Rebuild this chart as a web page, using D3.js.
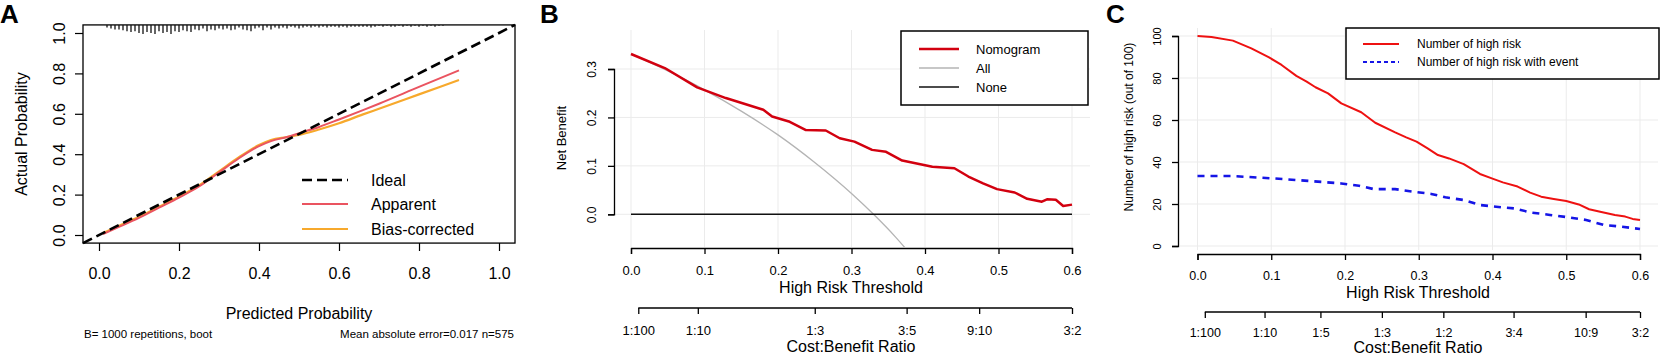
<!DOCTYPE html>
<html lang="en">
<head>
<meta charset="UTF-8"/>
<title>Calibration and decision curves</title>
<script src="https://d3js.org/d3.v7.min.js"></script>
<style>
    body { margin: 0; background: #fff; }
    svg { display: block; font-family: "Liberation Sans", Arial, sans-serif; }
</style>
</head>
<body>
<div id="chart"></div>
<script>
    let width = 1664;
    let height = 358;

    // ---------- panel A : calibration ----------
    var calTicks = [0, 0.2, 0.4, 0.6, 0.8, 1.0];
    var calX = [0.01, 0.05, 0.1, 0.15, 0.2, 0.25, 0.3, 0.35, 0.4, 0.43, 0.47, 0.51, 0.55, 0.6, 0.66, 0.7, 0.8, 0.9];
    var apparentY = [0.005, 0.04, 0.085, 0.135, 0.185, 0.24, 0.31, 0.38, 0.44, 0.465, 0.485, 0.51, 0.535, 0.572, 0.618, 0.65, 0.733, 0.815];
    var biasY = [0.01, 0.045, 0.09, 0.14, 0.19, 0.245, 0.315, 0.385, 0.445, 0.47, 0.485, 0.5, 0.522, 0.553, 0.597, 0.625, 0.696, 0.767];
    // spike lengths of the rug along the top (relative), one per 0.01 of predicted probability from 0.02
    var rugHeights = [0.3, 0.4, 0.5, 0.5, 0.6, 0.7, 0.8, 0.7, 0.9, 1.0, 0.8, 0.9, 1.0, 0.7,
        0.9, 0.8, 1.0, 0.7, 0.8, 0.6, 0.7, 0.8, 0.5, 0.6, 0.4, 0.7, 0.5, 0.6, 0.4,
        0.5, 0.4, 0.6, 0.5, 0.3, 0.5, 0.6, 0.7, 0.4, 0.3, 0.6, 0.3, 0.5, 0.3, 0.4,
        0.3, 0.4, 0.2, 0.3, 0.4, 0.3, 0.2, 0.3, 0.2, 0.3, 0.2, 0.3, 0.2, 0.2, 0.3,
        0.2, 0.3, 0.2, 0.2, 0.2, 0.2, 0.2, 0.3, 0.2, 0.1, 0.2, 0.1, 0.2, 0.2, 0.1,
        0.2, 0.1, 0.2, 0.1, 0.2, 0.1, 0.2, 0.1, 0.2, 0.1, 0.1];
    var calLegend = ["Ideal", "Apparent", "Bias-corrected"];

    // ---------- panel B : decision curve ----------
    var thrTicks = [0, 0.1, 0.2, 0.3, 0.4, 0.5, 0.6];
    var nbTicks = [0, 0.1, 0.2, 0.3];
    var nomoX = [0.0, 0.046, 0.09, 0.129, 0.18, 0.192, 0.216, 0.238, 0.265, 0.284, 0.304, 0.328, 0.347,
        0.369, 0.41, 0.44, 0.459, 0.479, 0.498, 0.522, 0.539, 0.559, 0.566, 0.578, 0.588, 0.6];
    var nomoY = [0.331, 0.302, 0.262, 0.240, 0.216, 0.202, 0.191, 0.174, 0.173, 0.157, 0.150, 0.133, 0.129,
        0.111, 0.098, 0.095, 0.078, 0.064, 0.052, 0.045, 0.032, 0.026, 0.031, 0.030, 0.017, 0.020];
    var allX = [0.0, 0.05, 0.1, 0.15, 0.2, 0.25, 0.3, 0.33, 0.36, 0.39];
    var allY = [0.331, 0.296, 0.257, 0.213, 0.164, 0.107, 0.043, 0.0, -0.047, -0.1];
    var bLegend = ["Nomogram", "All", "None"];
    var bRatios = ["1:100", "1:10", "1:3", "3:5", "9:10", "3:2"];

    // ---------- panel C : clinical impact ----------
    var numTicks = [0, 20, 40, 60, 80, 100];
    var highX = [0, 0.019, 0.048, 0.073, 0.097, 0.114, 0.134, 0.148, 0.16, 0.177, 0.195, 0.222, 0.241, 0.268,
        0.283, 0.297, 0.312, 0.326, 0.341, 0.361, 0.383, 0.4, 0.414, 0.434, 0.451, 0.466, 0.483, 0.5,
        0.517, 0.531, 0.546, 0.566, 0.58, 0.59, 0.6];
    var highY = [100, 99.5, 97.8, 94.1, 89.8, 86.2, 81, 78.3, 75.6, 72.7, 67.9, 63.7, 58.7, 54.1,
        51.7, 49.7, 46.5, 43.3, 41.7, 39, 34.3, 32.1, 30.3, 28.3, 25.4, 23.5, 22.4, 21.4,
        19.8, 17.5, 16.3, 14.8, 14, 12.9, 12.4];
    var eventX = [0, 0.048, 0.102, 0.15, 0.195, 0.219, 0.239, 0.268, 0.292, 0.317, 0.336, 0.361, 0.383,
        0.405, 0.429, 0.453, 0.478, 0.502, 0.527, 0.551, 0.575, 0.6];
    var eventY = [33.3, 33.3, 32.2, 31, 29.8, 28.7, 27.1, 27.1, 25.9, 24.8, 23.2, 21.9, 19.5,
        18.7, 17.9, 15.9, 14.8, 13.7, 12.4, 10, 9.2, 8.1];
    var cLegend = ["Number of high risk", "Number of high risk with event"];
    var cRatios = ["1:100", "1:10", "1:5", "1:3", "1:2", "3:4", "10:9", "3:2"];

    // threshold at which cost:benefit = a:b
    function ratioToThr(s) {
        var p = s.split(":").map(Number);
        return p[0] / (p[0] + p[1]);
    }
    function pairs(xs, ys) {
        return xs.map(function (x, i) { return [x, ys[i]]; });
    }

    var svg = d3.select("#chart").append("svg").attr("width", width).attr("height", height);

    // panel letters
    svg.selectAll(".letter").data([["A", 0], ["B", 540], ["C", 1106]]).enter().append("text")
        .attr("x", d => d[1]).attr("y", 23)
        .attr("font-size", 26).attr("font-weight", "bold").text(d => d[0]);

    function styleAxis(g, w) {
        g.selectAll("line").attr("stroke", "#000").attr("stroke-width", w);
        g.selectAll("path").attr("stroke", "#000").attr("stroke-width", w);
        g.selectAll("text").attr("fill", "#000");
    }

    // ================= A =================
    var ax = d3.scaleLinear().domain([0, 1]).range([99, 499]);
    var ay = d3.scaleLinear().domain([0, 1]).range([235, 33]);
    var gA = svg.append("g");

    var yAxA = gA.append("g").attr("transform", "translate(83,0)")
        .call(d3.axisLeft(ay).tickValues(calTicks).tickSize(8).tickFormat(d3.format(".1f")));
    yAxA.select(".domain").remove();
    yAxA.selectAll("text").attr("x", null).attr("dy", "0.35em").attr("font-size", 16)
        .attr("text-anchor", "middle").attr("transform", "translate(-24,0) rotate(-90)");
    styleAxis(yAxA, 1.2);

    var xAxA = gA.append("g").attr("transform", "translate(0,243)")
        .call(d3.axisBottom(ax).tickValues(calTicks).tickSize(8).tickFormat(d3.format(".1f")));
    xAxA.select(".domain").remove();
    xAxA.selectAll("text").attr("y", 30).attr("dy", "0.35em").attr("font-size", 16);
    styleAxis(xAxA, 1.2);

    // box
    gA.append("rect").attr("x", ax(-0.04)).attr("y", ay(1.04))
        .attr("width", ax(1.04) - ax(-0.04)).attr("height", ay(-0.04) - ay(1.04))
        .attr("fill", "none").attr("stroke", "#000").attr("stroke-width", 1.3);

    // rug of predicted probabilities
    var rugX = d3.range(rugHeights.length).map(i => 0.02 + i * 0.01);
    gA.selectAll(".rug").data(rugHeights).enter().append("line")
        .attr("x1", (d, i) => ax(rugX[i])).attr("x2", (d, i) => ax(rugX[i]))
        .attr("y1", ay(1.04)).attr("y2", d => ay(1.04) + d * 9)
        .attr("stroke", "#111").attr("stroke-width", 1.3);

    var lineA = d3.line().x(d => ax(d[0])).y(d => ay(d[1])).curve(d3.curveMonotoneX);
    gA.append("path").attr("d", lineA(pairs(calX, biasY)))
        .attr("fill", "none").attr("stroke", "#f7a92c").attr("stroke-width", 2.2);
    gA.append("path").attr("d", lineA(pairs(calX, apparentY)))
        .attr("fill", "none").attr("stroke", "#ea5460").attr("stroke-width", 2);
    gA.append("path").attr("d", lineA([[-0.04, -0.04], [1.04, 1.04]]))
        .attr("fill", "none").attr("stroke", "#000").attr("stroke-width", 2.6)
        .attr("stroke-dasharray", "10,5");

    // legend A
    var legA = gA.selectAll(".legA").data(calLegend).enter().append("g")
        .attr("transform", (d, i) => "translate(302," + [180, 204, 229][i] + ")");
    legA.append("line").attr("x1", 0).attr("x2", 46)
        .attr("stroke", (d, i) => ["#000", "#ea5460", "#f7a92c"][i])
        .attr("stroke-width", (d, i) => i == 0 ? 2.6 : 1.8)
        .attr("stroke-dasharray", (d, i) => i == 0 ? "10,5" : null);
    legA.append("text").attr("x", 69).attr("dy", "0.35em").attr("font-size", 16).text(d => d);

    gA.append("text").attr("x", 299).attr("y", 313).attr("dy", "0.35em")
        .attr("text-anchor", "middle").attr("font-size", 16).text("Predicted Probability");
    gA.append("text").attr("transform", "translate(21,134) rotate(-90)").attr("dy", "0.35em")
        .attr("text-anchor", "middle").attr("font-size", 16).text("Actual Probability");
    gA.append("text").attr("x", 84).attr("y", 334).attr("dy", "0.35em")
        .attr("font-size", 11.5).text("B= 1000 repetitions, boot");
    gA.append("text").attr("x", 514).attr("y", 334).attr("dy", "0.35em").attr("text-anchor", "end")
        .attr("font-size", 11.5).text("Mean absolute error=0.017 n=575");

    // ================= B =================
    var bx = d3.scaleLinear().domain([0, 0.6]).range([631, 1072]);
    var by = d3.scaleLinear().domain([0, 0.3]).range([214.3, 69]);
    var gB = svg.append("g");
    var bTop = 30, bBot = 247, bLeft = 613, bRight = 1090;

    gB.selectAll(".vgrid").data(thrTicks).enter().append("line")
        .attr("x1", d => bx(d)).attr("x2", d => bx(d)).attr("y1", bTop).attr("y2", bBot)
        .attr("stroke", "#ebebeb").attr("stroke-width", 1);
    gB.selectAll(".hgrid").data(nbTicks).enter().append("line")
        .attr("x1", bLeft).attr("x2", bRight).attr("y1", d => by(d)).attr("y2", d => by(d))
        .attr("stroke", "#ebebeb").attr("stroke-width", 1);

    var yAxB = gB.append("g").attr("transform", "translate(614,0)")
        .call(d3.axisLeft(by).tickValues(nbTicks).tickSize(6).tickFormat(d3.format(".1f")));
    yAxB.selectAll("text").attr("x", null).attr("dy", "0.35em").attr("font-size", 12)
        .attr("text-anchor", "middle").attr("transform", "translate(-22,0) rotate(-90)");
    styleAxis(yAxB, 1.3);

    var xAxB = gB.append("g").attr("transform", "translate(0,248)")
        .call(d3.axisBottom(bx).tickValues(thrTicks).tickSize(6).tickFormat(d3.format(".1f")));
    xAxB.selectAll("text").attr("y", 22).attr("dy", "0.35em").attr("font-size", 13);
    styleAxis(xAxB, 1.3);

    var bRatioThr = bRatios.map(ratioToThr);
    var rAxB = gB.append("g").attr("transform", "translate(0,308)")
        .call(d3.axisBottom(bx).tickValues(bRatioThr).tickSize(6).tickFormat((d, i) => bRatios[i]));
    rAxB.select(".domain").remove();
    rAxB.append("line").attr("x1", bx(bRatioThr[0])).attr("x2", bx(bRatioThr[bRatioThr.length - 1]));
    rAxB.selectAll("text").attr("y", 22).attr("dy", "0.35em").attr("font-size", 13);
    styleAxis(rAxB, 1.3);

    svg.append("clipPath").attr("id", "clipB").append("rect")
        .attr("x", bLeft).attr("y", bTop).attr("width", bRight - bLeft).attr("height", bBot - bTop);
    var lineB = d3.line().x(d => bx(d[0])).y(d => by(d[1])).curve(d3.curveMonotoneX);
    gB.append("path").attr("d", lineB(pairs(allX, allY))).attr("clip-path", "url(#clipB)")
        .attr("fill", "none").attr("stroke", "#b4b4b4").attr("stroke-width", 1.3);
    gB.append("path").attr("d", lineB([[0, 0], [0.6, 0]]))
        .attr("fill", "none").attr("stroke", "#111").attr("stroke-width", 1.5);
    gB.append("path").attr("d", d3.line().x(d => bx(d[0])).y(d => by(d[1]))(pairs(nomoX, nomoY)))
        .attr("fill", "none").attr("stroke", "#d2000f").attr("stroke-width", 2.5)
        .attr("stroke-linejoin", "round");

    // legend B
    gB.append("rect").attr("x", 901).attr("y", 31).attr("width", 187).attr("height", 74)
        .attr("fill", "#fff").attr("stroke", "#000").attr("stroke-width", 1.5);
    var legB = gB.selectAll(".legB").data(bLegend).enter().append("g")
        .attr("transform", (d, i) => "translate(919," + (49 + i * 19) + ")");
    legB.append("line").attr("x1", 0).attr("x2", 40)
        .attr("stroke", (d, i) => ["#d2000f", "#b4b4b4", "#111"][i])
        .attr("stroke-width", (d, i) => i == 0 ? 2.5 : 1.5);
    legB.append("text").attr("x", 57).attr("dy", "0.35em").attr("font-size", 13).text(d => d);

    gB.append("text").attr("x", 851).attr("y", 287).attr("dy", "0.35em")
        .attr("text-anchor", "middle").attr("font-size", 16).text("High Risk Threshold");
    gB.append("text").attr("x", 851).attr("y", 346).attr("dy", "0.35em")
        .attr("text-anchor", "middle").attr("font-size", 16).text("Cost:Benefit Ratio");
    gB.append("text").attr("transform", "translate(561,138) rotate(-90)").attr("dy", "0.35em")
        .attr("text-anchor", "middle").attr("font-size", 13).text("Net Benefit");

    // ================= C =================
    var cx = d3.scaleLinear().domain([0, 0.6]).range([1197.5, 1640]);
    var cy = d3.scaleLinear().domain([0, 100]).range([246, 36]);
    var gC = svg.append("g");
    var cTop = 28, cBot = 250, cLeft = 1180, cRight = 1658;

    gC.selectAll(".vgrid").data(thrTicks).enter().append("line")
        .attr("x1", d => cx(d)).attr("x2", d => cx(d)).attr("y1", cTop).attr("y2", cBot)
        .attr("stroke", "#ebebeb").attr("stroke-width", 1);
    gC.selectAll(".hgrid").data(numTicks).enter().append("line")
        .attr("x1", cLeft).attr("x2", cRight).attr("y1", d => cy(d)).attr("y2", d => cy(d))
        .attr("stroke", "#ebebeb").attr("stroke-width", 1);

    var yAxC = gC.append("g").attr("transform", "translate(1178,0)")
        .call(d3.axisLeft(cy).tickValues(numTicks).tickSize(6));
    yAxC.selectAll("text").attr("x", null).attr("dy", "0.35em").attr("font-size", 11)
        .attr("text-anchor", "middle").attr("transform", "translate(-21,0) rotate(-90)");
    styleAxis(yAxC, 1.3);

    var xAxC = gC.append("g").attr("transform", "translate(0,254)")
        .call(d3.axisBottom(cx).tickValues(thrTicks).tickSize(6).tickFormat(d3.format(".1f")));
    xAxC.selectAll("text").attr("y", 22).attr("dy", "0.35em").attr("font-size", 12.5);
    styleAxis(xAxC, 1.3);

    var cRatioThr = cRatios.map(ratioToThr);
    var rAxC = gC.append("g").attr("transform", "translate(0,312)")
        .call(d3.axisBottom(cx).tickValues(cRatioThr).tickSize(6).tickFormat((d, i) => cRatios[i]));
    rAxC.select(".domain").remove();
    rAxC.append("line").attr("x1", cx(cRatioThr[0])).attr("x2", cx(cRatioThr[cRatioThr.length - 1]));
    rAxC.selectAll("text").attr("y", 21).attr("dy", "0.35em").attr("font-size", 12.5);
    styleAxis(rAxC, 1.3);

    var lineC = d3.line().x(d => cx(d[0])).y(d => cy(d[1]));
    gC.append("path").attr("d", lineC(pairs(highX, highY)))
        .attr("fill", "none").attr("stroke", "#ee1111").attr("stroke-width", 2)
        .attr("stroke-linejoin", "round");
    gC.append("path").attr("d", lineC(pairs(eventX, eventY)))
        .attr("fill", "none").attr("stroke", "#1515e6").attr("stroke-width", 2.6)
        .attr("stroke-dasharray", "7,6");

    // legend C
    gC.append("rect").attr("x", 1346).attr("y", 28).attr("width", 313).attr("height", 51)
        .attr("fill", "#fff").attr("stroke", "#000").attr("stroke-width", 1.5);
    var legC = gC.selectAll(".legC").data(cLegend).enter().append("g")
        .attr("transform", (d, i) => "translate(1363," + (44 + i * 18) + ")");
    legC.append("line").attr("x1", 0).attr("x2", 36)
        .attr("stroke", (d, i) => i == 0 ? "#ee1111" : "#1515e6")
        .attr("stroke-width", 2)
        .attr("stroke-dasharray", (d, i) => i == 0 ? null : "4,3");
    legC.append("text").attr("x", 54).attr("dy", "0.35em").attr("font-size", 12).text(d => d);

    gC.append("text").attr("x", 1418).attr("y", 292).attr("dy", "0.35em")
        .attr("text-anchor", "middle").attr("font-size", 16).text("High Risk Threshold");
    gC.append("text").attr("x", 1418).attr("y", 347).attr("dy", "0.35em")
        .attr("text-anchor", "middle").attr("font-size", 16).text("Cost:Benefit Ratio");
    gC.append("text").attr("transform", "translate(1129,127) rotate(-90)").attr("dy", "0.35em")
        .attr("text-anchor", "middle").attr("font-size", 12).text("Number of high risk (out of 100)");
</script>
</body>
</html>
